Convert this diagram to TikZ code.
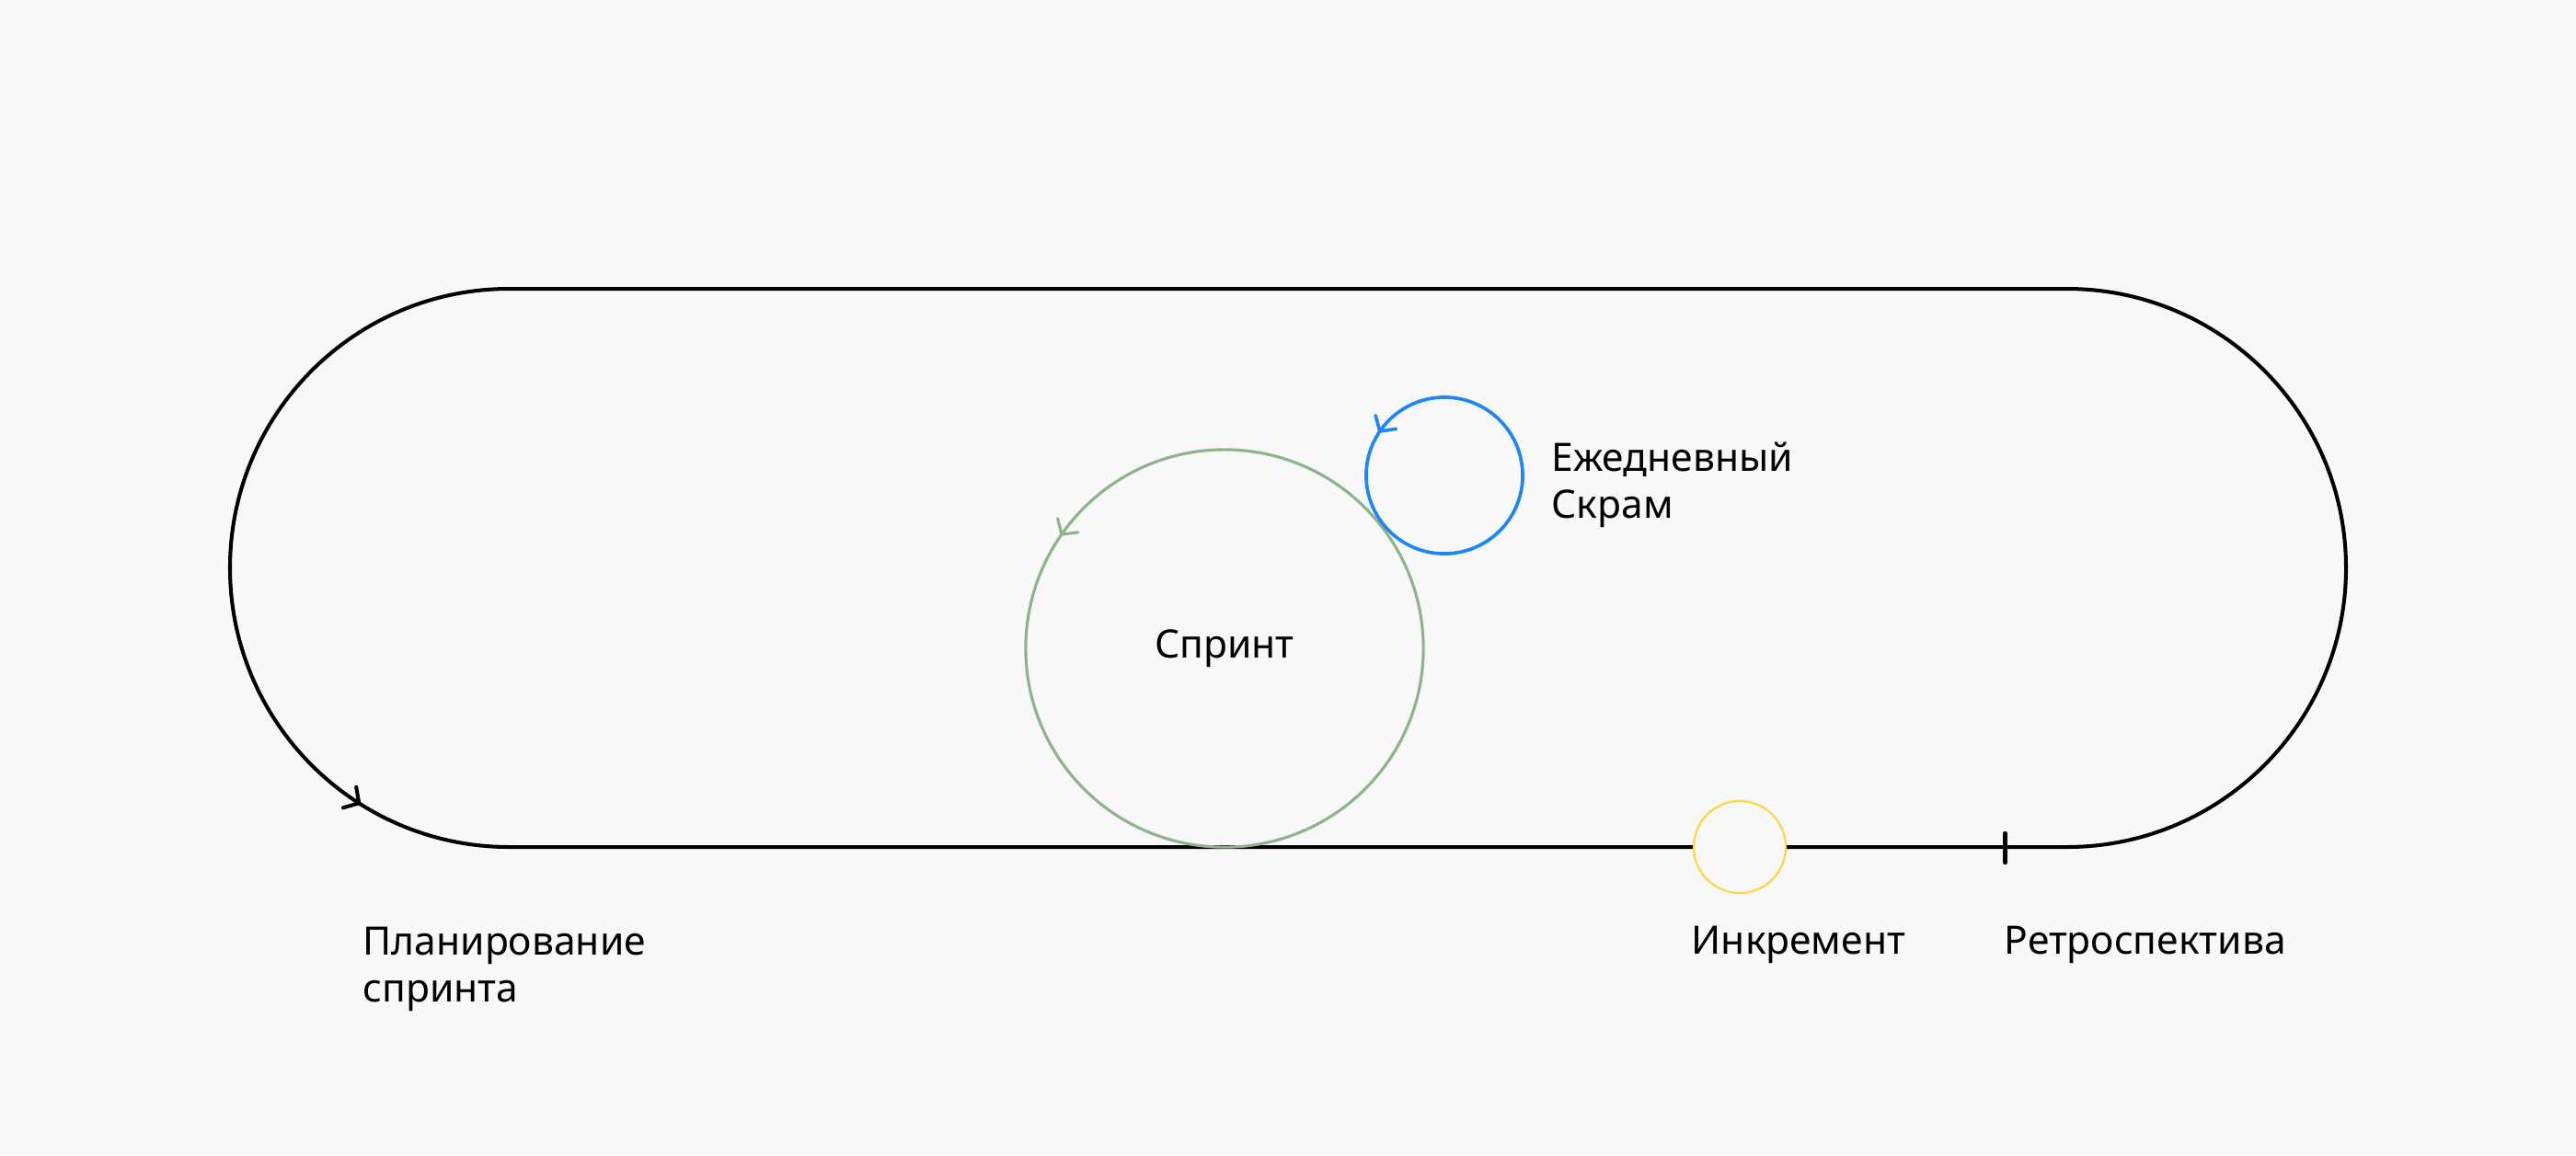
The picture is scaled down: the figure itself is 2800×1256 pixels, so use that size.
\documentclass[tikz,border=0pt]{standalone}
\usepackage{fontspec}
\setmainfont{Noto Sans}
\usetikzlibrary{arrows.meta,decorations.markings}
\definecolor{bg}{HTML}{F8F8F8}
\definecolor{scrumblue}{HTML}{1F87F5}
\definecolor{sprintgreen}{HTML}{8FB38B}
\definecolor{incyellow}{HTML}{FFD54A}
\tikzset{
  barb/.tip={Straight Barb[length=3.4pt,width=7.6pt,round]},
  lbl/.style={font=\fontsize{12.1pt}{14.5pt}\selectfont, inner sep=0pt, text=black},
  sidelbl/.style={lbl, anchor=base west, align=left},
  track/.style={draw=black, line width=1.15pt},
  ringnode/.style={circle, inner sep=0pt, outer sep=0pt},
  arrowat/.style={postaction={decorate}, decoration={markings, mark=at position #1 with {\arrow{barb}}}},
  sprintring/.style={ringnode, draw=sprintgreen, line width=0.9pt, minimum size=4.32cm, arrowat=0.404},
  scrumring/.style={ringnode, draw=scrumblue, line width=1.05pt, minimum size=1.7cm, arrowat=0.408},
  incring/.style={ringnode, draw=incyellow, fill=bg, line width=0.65pt, minimum size=1cm},
  retrotick/.style={draw=black, line width=1.2pt, line cap=round}
}
\begin{document}
\begin{tikzpicture}[x=0.01cm, y=-0.01cm]
  \fill[bg] (0,0) rectangle (2800,1256);
  \useasboundingbox (0,0) rectangle (2800,1256);

  % sprint track
  \coordinate (trackTR) at (2246.5,314);
  \coordinate (trackTL) at (553.5,314);
  \coordinate (trackBR) at (2246.5,921);
  \draw[track, arrowat=0.4678]
    (trackTR) -- (trackTL) arc[start angle=270, end angle=90, radius=303.5]
    -- (trackBR) arc[start angle=90, end angle=-90, radius=303.5] -- cycle;

  % sprint circle
  \node[sprintring, lbl] (sprint) at (1331,705) {Спринт};

  % daily scrum circle
  \node[scrumring] (scrum) at (1570,517) {};

  % increment
  \node[incring] (incr) at (1891,921) {};

  % retrospective tick
  \coordinate (tickT) at (2179.5,906);
  \coordinate (tickB) at (2179.5,938);
  \draw[retrotick] (tickT) -- (tickB);

  % labels (base anchor = baseline of the last line)
  \node[sidelbl] (planlbl) at (394,1089) {Планирование\\спринта};
  \node[sidelbl] (scrumlbl) at (1686,563) {Ежедневный\\Скрам};
  \node[sidelbl] (incrlbl) at (1838,1037) {Инкремент};
  \node[sidelbl] (retrolbl) at (2178,1037) {Ретроспектива};
\end{tikzpicture}
\end{document}
